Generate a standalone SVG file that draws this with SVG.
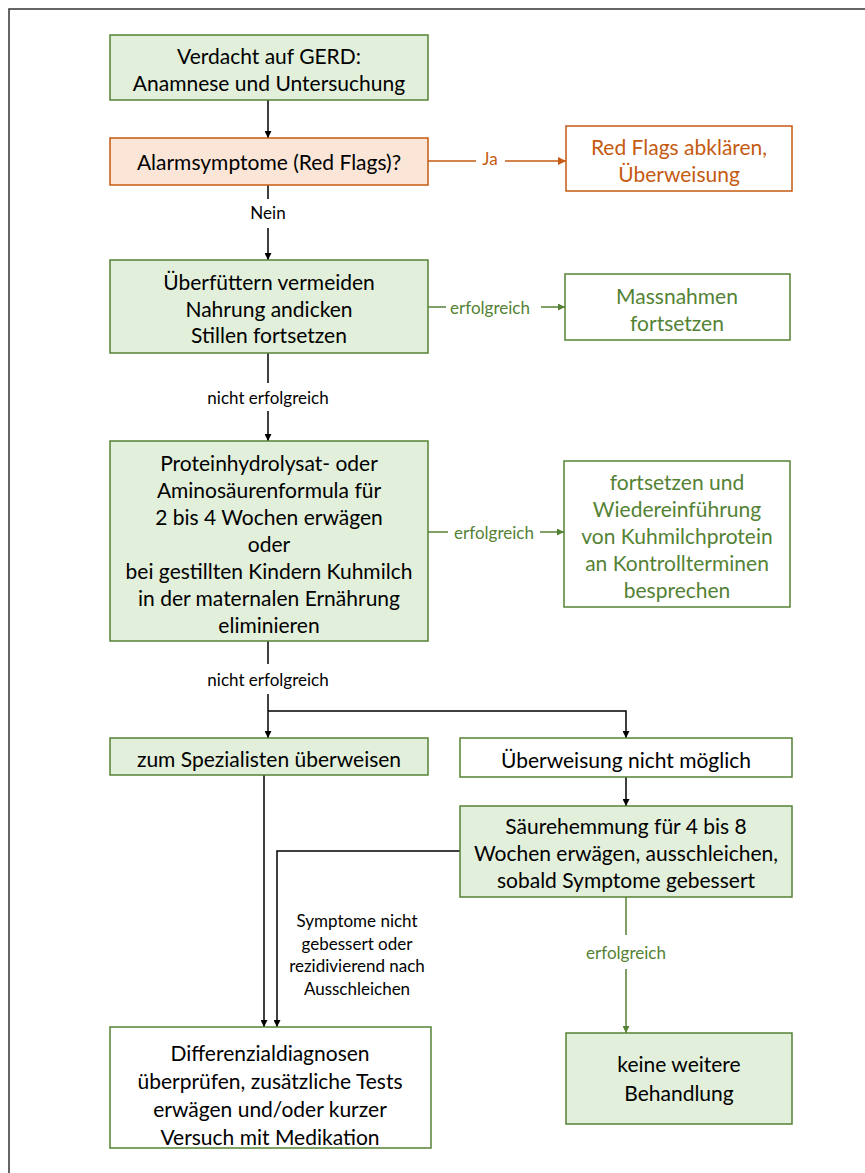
<svg xmlns="http://www.w3.org/2000/svg" width="865" height="1173" viewBox="0 0 865 1173">
<defs>
<marker id="ab" viewBox="0 0 10 10" refX="10" refY="5" markerWidth="7" markerHeight="7" markerUnits="userSpaceOnUse" orient="auto"><path d="M0,0 L10,5 L0,10 z" fill="#000"/></marker>
<marker id="ag" viewBox="0 0 10 10" refX="10" refY="5" markerWidth="7" markerHeight="7" markerUnits="userSpaceOnUse" orient="auto"><path d="M0,0 L10,5 L0,10 z" fill="#548235"/></marker>
<marker id="ao" viewBox="0 0 10 10" refX="10" refY="5" markerWidth="8" markerHeight="8" markerUnits="userSpaceOnUse" orient="auto"><path d="M0,0 L10,5 L0,10 z" fill="#c55a11"/></marker>
<style>
text{font-family:Lato,"Liberation Sans",sans-serif;text-anchor:middle;dominant-baseline:central}
.t{font-size:21px;fill:#000}
.tg{font-size:21px;fill:#548235}
.to{font-size:21px;fill:#c55a11}
.l{font-size:17px;fill:#000}
.lg{font-size:17px;fill:#548235}
.lo{font-size:17px;fill:#c55a11}
.g{fill:#e2efda;stroke:#548235;stroke-width:1.5}
.w{fill:#fff;stroke:#548235;stroke-width:1.5}
.o{fill:#fbe5d6;stroke:#c55a11;stroke-width:1.5}
.wo{fill:#fff;stroke:#c55a11;stroke-width:1.5}
.cb{fill:none;stroke:#000;stroke-width:1.5}
.cg{fill:none;stroke:#548235;stroke-width:1.5}
.co{fill:none;stroke:#c55a11;stroke-width:1.5}
</style>
</defs>
<rect x="9" y="9" width="880" height="1190" fill="#fff" stroke="#333" stroke-width="1.5"/>
<g id="connectors">
<path class="cb" d="M268,100 V138" marker-end="url(#ab)"/>
<path class="co" d="M428,161 H476"/>
<path class="co" d="M505,161 H566" marker-end="url(#ao)"/>
<text class="lo" x="490" y="158">Ja</text>
<path class="cb" d="M268,185 V199"/>
<text class="l" x="268" y="212">Nein</text>
<path class="cb" d="M268,228 V260" marker-end="url(#ab)"/>
<path class="cg" d="M428,307 H446"/>
<text class="lg" x="490" y="307">erfolgreich</text>
<path class="cg" d="M541,307 H565" marker-end="url(#ag)"/>
<path class="cb" d="M268,353 V383"/>
<text class="l" x="268" y="397">nicht erfolgreich</text>
<path class="cb" d="M268,411 V441" marker-end="url(#ab)"/>
<path class="cg" d="M428,532 H448"/>
<text class="lg" x="494" y="532">erfolgreich</text>
<path class="cg" d="M540,532 H564" marker-end="url(#ag)"/>
<path class="cb" d="M268,641 V664"/>
<text class="l" x="268" y="679">nicht erfolgreich</text>
<path class="cb" d="M268,694 V738" marker-end="url(#ab)"/>
<path class="cb" d="M268,711 H626 V738" marker-end="url(#ab)"/>
<path class="cb" d="M626,777 V806" marker-end="url(#ab)"/>
<path class="cb" d="M264,775 V1027" marker-end="url(#ab)"/>
<path class="cb" d="M460,851 H277 V1027" marker-end="url(#ab)"/>
<text class="l" x="357" y="920">Symptome nicht</text>
<text class="l" x="357" y="943">gebessert oder</text>
<text class="l" x="357" y="965">rezidivierend nach</text>
<text class="l" x="357" y="988">Ausschleichen</text>
<path class="cg" d="M626,897 V935"/>
<text class="lg" x="626" y="952">erfolgreich</text>
<path class="cg" d="M626,969 V1033" marker-end="url(#ag)"/>
</g>
<g id="n1"><rect class="g" x="110" y="35" width="318" height="65"/>
<text class="t" x="269" y="55">Verdacht auf GERD:</text>
<text class="t" x="269" y="82">Anamnese und Untersuchung</text></g>
<g id="n2"><rect class="o" x="110" y="138" width="318" height="47"/>
<text class="t" x="269" y="161">Alarmsymptome (Red Flags)?</text></g>
<g id="n3"><rect class="wo" x="566" y="126" width="226" height="65"/>
<text class="to" x="679" y="146">Red Flags abklären,</text>
<text class="to" x="679" y="173">Überweisung</text></g>
<g id="n4"><rect class="g" x="110" y="260" width="318" height="93"/>
<text class="t" x="269" y="281">Überfüttern vermeiden</text>
<text class="t" x="269" y="308">Nahrung andicken</text>
<text class="t" x="269" y="334">Stillen fortsetzen</text></g>
<g id="n5"><rect class="w" x="565" y="274" width="225" height="66"/>
<text class="tg" x="677" y="295">Massnahmen</text>
<text class="tg" x="677" y="322">fortsetzen</text></g>
<g id="n6"><rect class="g" x="110" y="441" width="318" height="200"/>
<text class="t" x="269" y="462">Proteinhydrolysat- oder</text>
<text class="t" x="269" y="489">Aminosäurenformula für</text>
<text class="t" x="269" y="516">2 bis 4 Wochen erwägen</text>
<text class="t" x="269" y="543">oder</text>
<text class="t" x="269" y="570">bei gestillten Kindern Kuhmilch</text>
<text class="t" x="269" y="597">in der maternalen Ernährung</text>
<text class="t" x="269" y="624">eliminieren</text></g>
<g id="n7"><rect class="w" x="564" y="461" width="226" height="146"/>
<text class="tg" x="677" y="481">fortsetzen und</text>
<text class="tg" x="677" y="508">Wiedereinführung</text>
<text class="tg" x="677" y="535">von Kuhmilchprotein</text>
<text class="tg" x="677" y="562">an Kontrollterminen</text>
<text class="tg" x="677" y="589">besprechen</text></g>
<g id="n8"><rect class="g" x="110" y="738" width="318" height="37"/>
<text class="t" x="269" y="758">zum Spezialisten überweisen</text></g>
<g id="n9"><rect class="w" x="460" y="738" width="332" height="39"/>
<text class="t" x="626" y="759">Überweisung nicht möglich</text></g>
<g id="n10"><rect class="g" x="460" y="806" width="332" height="91"/>
<text class="t" x="626" y="825">Säurehemmung für 4 bis 8</text>
<text class="t" x="626" y="852">Wochen erwägen, ausschleichen,</text>
<text class="t" x="626" y="879">sobald Symptome gebessert</text></g>
<g id="n11"><rect class="g" x="566" y="1033" width="226" height="91"/>
<text class="t" x="679" y="1063">keine weitere</text>
<text class="t" x="679" y="1092">Behandlung</text></g>
<g id="n12"><rect class="w" x="110" y="1027" width="321" height="121"/>
<text class="t" x="270" y="1052">Differenzialdiagnosen</text>
<text class="t" x="270" y="1080">überprüfen, zusätzliche Tests</text>
<text class="t" x="270" y="1108">erwägen und/oder kurzer</text>
<text class="t" x="270" y="1136">Versuch mit Medikation</text></g>
</svg>
